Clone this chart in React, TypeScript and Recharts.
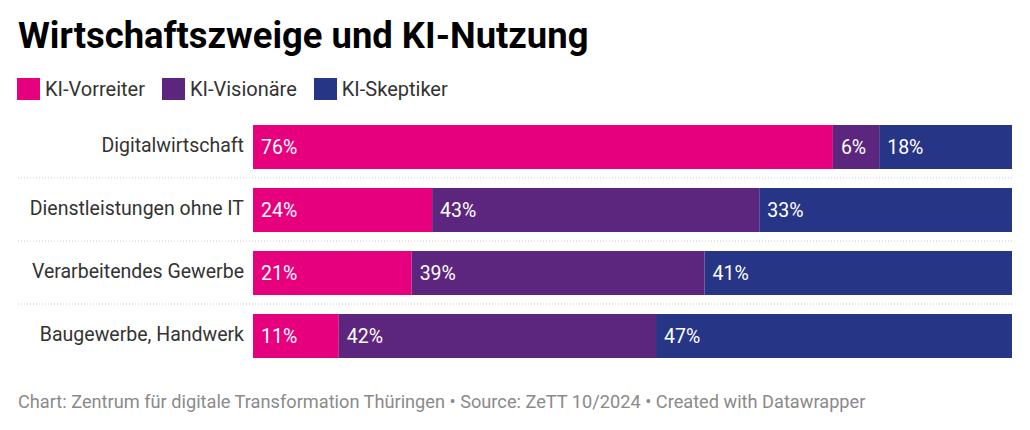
import React from 'react';
import { BarChart, Bar, XAxis, YAxis, LabelList } from 'recharts';

const categories = ['Digitalwirtschaft', 'Dienstleistungen ohne IT', 'Verarbeitendes Gewerbe', 'Baugewerbe, Handwerk'];
// shares in percent, labels are shown rounded
const vorreiter = [76.4, 23.6, 20.9, 11.3];
const visionaere = [6.1, 43.1, 38.6, 41.8];
const skeptiker = [17.5, 33.3, 40.5, 46.9];

const seriesNames = ['KI-Vorreiter', 'KI-Visionäre', 'KI-Skeptiker'];
const colors = ['#e6007e', '#5c267e', '#273587'];

const data = categories.map((name, i) => ({
  name,
  vorreiter: vorreiter[i],
  visionaere: visionaere[i],
  skeptiker: skeptiker[i],
}));

const CHART_H = 252;
const ROW_H = CHART_H / categories.length;

// category label plus the dotted separator under each row
const CategoryTick = ({ x, y, payload, index }: any) => (
  <g>
    <text x={x - 1} y={y} dy={5.5} textAnchor="end" fontSize={19.5} fill="#333" fontFamily="Roboto">
      {payload.value}
    </text>
    {index < categories.length - 1 && (
      <line x1={18} x2={1012} y1={y + ROW_H / 2} y2={y + ROW_H / 2} stroke="#cccccc" strokeDasharray="1 2" />
    )}
  </g>
);

export default function App() {
  const keys = ['vorreiter', 'visionaere', 'skeptiker'];
  return (
    <div style={{ position: 'absolute', left: 0, top: 0, width: 1030, height: 430, background: '#fff', fontFamily: 'Roboto', overflow: 'hidden' }}>
      <div style={{ position: 'absolute', left: 18, top: 18, fontSize: 36.4, lineHeight: 1, fontWeight: 700, color: '#000', whiteSpace: 'nowrap' }}>
        Wirtschaftszweige und KI-Nutzung
      </div>
      <div style={{ position: 'absolute', left: 17, top: 78, height: 22, display: 'flex', alignItems: 'center', fontSize: 20, lineHeight: '22px', color: '#333' }}>
        {seriesNames.map((s, i) => (
          <div key={s} style={{ display: 'flex', alignItems: 'center', marginRight: 17 }}>
            <span style={{ width: 23, height: 22, background: colors[i], marginRight: 5, display: 'inline-block' }} />
            <span>{s}</span>
          </div>
        ))}
      </div>
      <div style={{ position: 'absolute', left: 0, top: 115 }}>
        <BarChart
          width={1030}
          height={CHART_H}
          data={data}
          layout="vertical"
          stackOffset="expand"
          margin={{ top: 0, right: 18, left: 0, bottom: 0 }}
        >
          <XAxis type="number" hide domain={[0, 1]} />
          <YAxis
            type="category"
            dataKey="name"
            width={253}
            axisLine={false}
            tickLine={false}
            tickMargin={2}
            tick={<CategoryTick />}
          />
          {keys.map((k, i) => (
            <Bar key={k} dataKey={k} stackId="a" fill={colors[i]} barSize={44} isAnimationActive={false}>
              <LabelList
                dataKey={k}
                position="insideLeft"
                offset={8}
                fill="#fff"
                fontSize={19.5}
                fontFamily="Roboto"
                formatter={(v: any) => `${Math.round(v)}%`}
              />
            </Bar>
          ))}
        </BarChart>
      </div>
      <div style={{ position: 'absolute', left: 18, top: 393, fontSize: 18.2, lineHeight: 1, color: '#8a8a8a', whiteSpace: 'nowrap' }}>
        Chart: Zentrum für digitale Transformation Thüringen • Source: ZeTT 10/2024 • Created with Datawrapper
      </div>
    </div>
  );
}
